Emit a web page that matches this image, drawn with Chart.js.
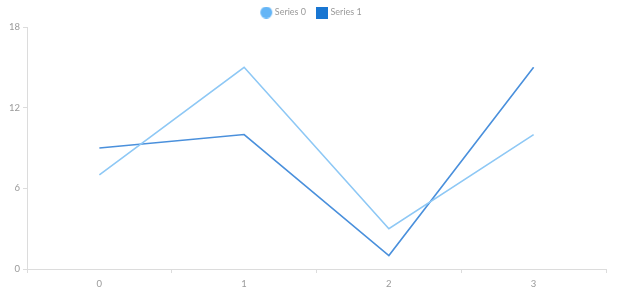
<!DOCTYPE html>
<html>
<head>
<meta charset="utf-8">
<script src="https://cdn.jsdelivr.net/npm/chart.js@4/dist/chart.umd.min.js"></script>
<style>
  html, body { margin: 0; padding: 0; background: #fff; }
  #wrap { width: 620px; height: 300px; position: relative; }
</style>
</head>
<body>
<div id="wrap"><canvas id="c"></canvas></div>
<script>
const categories = ['0', '1', '2', '3'];
const series0 = [7, 15, 3, 10];
const series1 = [9, 10, 1, 15];
const yTicks = [0, 6, 12, 18];

const axisColor = '#dcdcdc';
const textColor = '#9a9a9a';
const fontFamily = 'Lato, "Open Sans", sans-serif';

// Legend markers: 12px circle / square, drawn toward the right of an
// 18px-wide transparent canvas so the gap before each item is wider.
function marker(shape, color) {
  const c = document.createElement('canvas');
  c.width = 18; c.height = 12;
  const g = c.getContext('2d');
  g.fillStyle = color;
  if (shape === 'circle') {
    g.beginPath();
    g.arc(11, 6, 6, 0, Math.PI * 2);
    g.fill();
  } else {
    g.fillRect(5, 0, 12, 12);
  }
  return c;
}

const legendMarkers = [marker('circle', '#64b5f6'), marker('square', '#1976d2')];

new Chart(document.getElementById('c'), {
  type: 'line',
  data: {
    labels: categories,
    datasets: [
      {
        label: 'Series 0',
        data: series0,
        borderColor: '#8ec8f5',
        backgroundColor: '#64b5f6',
        borderWidth: 1.6,
        pointRadius: 0,
        tension: 0
      },
      {
        label: 'Series 1',
        data: series1,
        borderColor: '#4a90dc',
        backgroundColor: '#1976d2',
        borderWidth: 1.6,
        pointRadius: 0,
        tension: 0
      }
    ]
  },
  options: {
    responsive: true,
    maintainAspectRatio: false,
    animation: false,
    layout: { padding: 0 },
    plugins: {
      tooltip: { enabled: false },
      legend: {
        position: 'top',
        labels: {
          usePointStyle: true,
          pointStyleWidth: 12,
          boxHeight: 9,
          padding: 8,
          color: textColor,
          font: { family: fontFamily, size: 9 },
          generateLabels(chart) {
            return chart.data.datasets.map((ds, i) => ({
              text: ds.label,
              fillStyle: ds.backgroundColor,
              strokeStyle: ds.backgroundColor,
              lineWidth: 0,
              pointStyle: legendMarkers[i],
              fontColor: textColor,
              hidden: false,
              datasetIndex: i
            }));
          }
        }
      }
    },
    scales: {
      x: {
        type: 'category',
        offset: true,
        border: { color: axisColor, width: 1 },
        grid: {
          display: true,
          offset: true,
          drawOnChartArea: false,
          drawTicks: true,
          tickLength: 4,
          color: axisColor
        },
        ticks: {
          color: textColor,
          font: { family: fontFamily, size: 9.5 },
          padding: 5
        },
        afterFit(scale) { scale.height = 31; }
      },
      y: {
        min: 0,
        max: 18,
        border: { color: axisColor, width: 1 },
        grid: {
          display: true,
          drawOnChartArea: false,
          drawTicks: true,
          tickLength: 4,
          color: axisColor
        },
        afterBuildTicks(scale) {
          scale.ticks = yTicks.map(v => ({ value: v }));
        },
        ticks: {
          color: textColor,
          font: { family: fontFamily, size: 9.5 },
          padding: 3
        },
        afterFit(scale) { scale.width = 27; }
      },
      // empty right-hand margin beside the plot
      yRight: {
        position: 'right',
        min: 0,
        max: 18,
        border: { display: false },
        grid: { display: false },
        ticks: { display: false },
        afterFit(scale) { scale.width = 14; }
      }
    }
  }
});
</script>
</body>
</html>
